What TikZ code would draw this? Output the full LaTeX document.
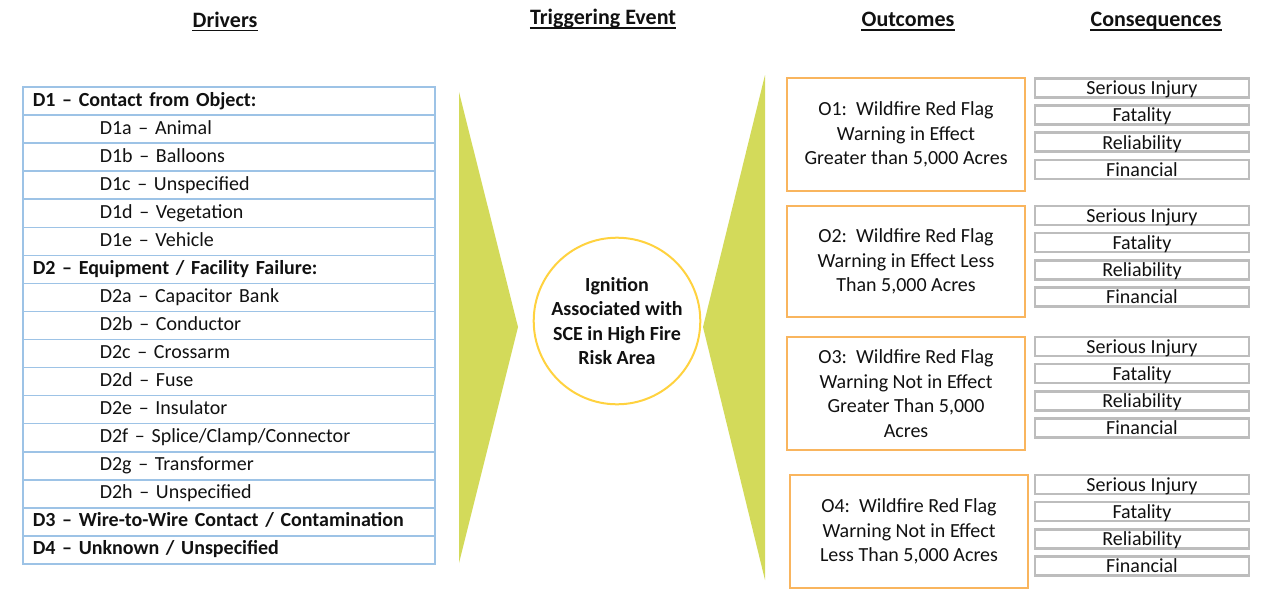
\documentclass[tikz,border=0pt]{standalone}
\usepackage{fontspec}
\setmainfont{Carlito}
\definecolor{tablue}{HTML}{9DC3E6}
\definecolor{trigreen}{HTML}{D3DA5A}
\definecolor{ringgold}{HTML}{FFD23F}
\definecolor{outorange}{HTML}{F9B55E}
\definecolor{congray}{HTML}{BDBDBD}
\definecolor{txt}{HTML}{111111}
\begin{document}
\begin{tikzpicture}[x=1pt,y=-1pt,
  every node/.style={font=\fontsize{20}{24.5}\selectfont, text=txt},
  rowbox/.style={draw=tablue, line width=1.5pt, minimum width=412pt, minimum height=28.06pt,
    anchor=west, inner xsep=10pt, inner ysep=0pt, text width=392pt, align=left,
    text height=14pt, text depth=4pt},
  header/.style={font=\fontsize{22}{24}\selectfont\bfseries, inner sep=0pt, anchor=base},
  uline/.style={line width=1.6pt, draw=txt},
  outbox/.style={draw=outorange, line width=2.5pt, minimum width=238pt, minimum height=113pt,
    align=center, inner sep=0pt},
  conbox/.style={draw=congray, line width=2.6pt, minimum width=214pt, minimum height=19pt,
    inner sep=0pt, text height=13.6pt, text depth=0pt},
  ring/.style={circle, draw=ringgold, line width=2pt, minimum size=166pt, align=center,
    font=\fontsize{20}{24.5}\selectfont\bfseries, fill=white},
  tri/.style={fill=trigreen}
]
\useasboundingbox (0,0) rectangle (1283,592);

% headers
\node[header] (hd) at (225,27) {Drivers};
\node[header] (ht) at (603,24.5) {Triggering Event};
\node[header] (ho) at (908,26.5) {Outcomes};
\node[header] (hc) at (1156,26.5) {Consequences};
\foreach \h in {hd,ht,ho,hc}{
  \draw[uline] ([yshift=-3.6pt]\h.base west) -- ([yshift=-3.6pt]\h.base east);
}

% drivers table
\def\sub{\hspace*{67pt}}
\node[rowbox] (r1)  at (22,101.03) {\textbf{D1 – Contact from Object:}};
\node[rowbox] (r2)  at (22,129.09) {\sub D1a – Animal};
\node[rowbox] (r3)  at (22,157.15) {\sub D1b – Balloons};
\node[rowbox] (r4)  at (22,185.21) {\sub D1c – Unspecified};
\node[rowbox] (r5)  at (22,213.27) {\sub D1d – Vegetation};
\node[rowbox] (r6)  at (22,241.33) {\sub D1e – Vehicle};
\node[rowbox] (r7)  at (22,269.39) {\textbf{D2 – Equipment / Facility Failure:}};
\node[rowbox] (r8)  at (22,297.45) {\sub D2a – Capacitor Bank};
\node[rowbox] (r9)  at (22,325.51) {\sub D2b – Conductor};
\node[rowbox] (r10) at (22,353.57) {\sub D2c – Crossarm};
\node[rowbox] (r11) at (22,381.63) {\sub D2d – Fuse};
\node[rowbox] (r12) at (22,409.69) {\sub D2e – Insulator};
\node[rowbox] (r13) at (22,437.75) {\sub D2f – Splice/Clamp/Connector};
\node[rowbox] (r14) at (22,465.81) {\sub D2g – Transformer};
\node[rowbox] (r15) at (22,493.87) {\sub D2h – Unspecified};
\node[rowbox] (r16) at (22,521.93) {\textbf{D3 – Wire-to-Wire Contact / Contamination}};
\node[rowbox] (r17) at (22,549.99) {\textbf{D4 – Unknown / Unspecified}};

% funnels
\fill[tri] (459,92) -- (518,327) -- (459,563) -- cycle;
\fill[tri] (765,75) -- (703,327) -- (765,580) -- cycle;

% triggering event
\node[ring] (ev) at (617,321) {Ignition\\Associated with\\SCE in High Fire\\Risk Area};

% outcomes
\node[outbox] (o1) at (906,134.5) {O1:\ \ Wildfire Red Flag\\Warning in Effect\\Greater than 5,000 Acres};
\node[outbox, minimum height=111pt] (o2) at (906,261.5) {O2:\ \ Wildfire Red Flag\\Warning in Effect Less\\Than 5,000 Acres};
\node[outbox] (o3) at (906,393.5) {O3:\ \ Wildfire Red Flag\\Warning Not in Effect\\Greater Than 5,000\\Acres};
\node[outbox] (o4) at (909,531.5) {O4:\ \ Wildfire Red Flag\\Warning Not in Effect\\Less Than 5,000 Acres};

% consequences
\foreach \g/\yy in {1/88, 2/215.5, 3/346.5, 4/484.5}{
  \foreach \k/\lab in {0/Serious Injury, 1/Fatality, 2/Reliability, 3/Financial}{
    \node[conbox] (c\g\k) at (1142,\yy+27.1*\k) {\lab};
  }
}
\end{tikzpicture}
\end{document}
